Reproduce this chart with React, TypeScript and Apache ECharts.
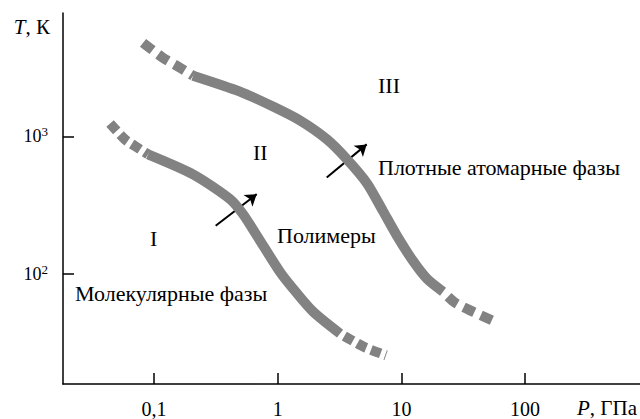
import React, { useEffect, useRef } from "react";
import * as echarts from "echarts";

// Pressure (GPa) ticks and temperature (K) ticks
const pressureTicks = [0.1, 1, 10, 100];
const tempTicks = [100, 1000];

// Lower boundary (molecular -> polymer): [P, T]
const lowerStartDashed = [
  [0.0441, 1242], [0.0583, 951], [0.0729, 832], [0.0894, 741],
];
const lowerSolid = [
  [0.0894, 741], [0.2066, 530], [0.4116, 350], [0.524, 272], [0.68, 189],
  [1.044, 103], [1.33, 78], [1.93, 53], [3.19, 36.7],
];
const lowerEndDashed = [
  [3.19, 36.7], [3.99, 32.7], [5.08, 29.1], [7.51, 25.5],
];

// Upper boundary (polymer -> dense atomic): [P, T]
const upperStartDashed = [
  [0.0815, 4800], [0.1182, 3737], [0.1622, 3162], [0.2066, 2767],
];
const upperSolid = [
  [0.2066, 2767], [0.4956, 2119], [0.916, 1650], [1.515, 1306], [2.503, 951],
  [3.633, 681], [5.27, 456], [7.1, 286], [9.21, 189], [12.41, 124],
  [16.1, 92], [21.7, 74.1],
];
const upperEndDashed = [
  [21.7, 74.1], [27.1, 61.7], [37.9, 53], [59.3, 44.2],
];

// Arrows [[P1, T1], [P2, T2]]
const arrows = [
  [[0.315, 224], [0.676, 380]],
  [[2.49, 502], [5.24, 875]],
];

const FONT = "'Liberation Serif', 'Times New Roman', serif";
const GRAY = "#828282";
const TXT = 22;

export default function App() {
  const ref = useRef<HTMLDivElement>(null);
  useEffect(() => {
    const chart = echarts.init(ref.current!, null, { renderer: "svg" });
    const lineSeries = (data: number[][], dashed: boolean, dash: number[], offset = 0) => ({
      type: "line",
      data,
      symbol: "none",
      smooth: 0.25,
      silent: true,
      lineStyle: {
        color: GRAY,
        width: 10,
        type: dashed ? dash : "solid",
        dashOffset: offset,
        cap: "butt",
        join: "round",
      },
    });
    const label = (text: string, x: number, y: number) => ({
      type: "text",
      x,
      y,
      style: { text, font: `${TXT}px ${FONT}`, fill: "#000", verticalAlign: "middle" },
    });
    const unitText = (sym: string, rest: string, x: number, y: number) => ({
      type: "text",
      x,
      y,
      style: {
        text: `{i|${sym}}{n|${rest}}`,
        rich: {
          i: { fontStyle: "italic", fontFamily: FONT, fontSize: 21, lineHeight: 22, fill: "#000" },
          n: { fontFamily: FONT, fontSize: 21, lineHeight: 22, fill: "#000" },
        },
        fill: "#000",
        align: "right",
        verticalAlign: "middle",
      },
    });
    chart.setOption({
      animation: false,
      tooltip: { show: false },
      grid: { left: 63, top: 13, right: 0, bottom: 33.3, containLabel: false },
      xAxis: {
        type: "log",
        logBase: 10,
        min: 0.01837,
        max: 848.8,
        axisLine: { lineStyle: { color: "#000", width: 1.5 } },
        axisTick: { inside: true, length: 11, lineStyle: { color: "#000", width: 1.5 }, customValues: pressureTicks },
        axisLabel: {
          customValues: pressureTicks,
          margin: 15,
          color: "#000",
          fontFamily: FONT,
          fontSize: 20,
          formatter: (v: number) => String(v).replace(".", ","),
        },
        splitLine: { show: false },
      },
      yAxis: {
        type: "log",
        logBase: 10,
        min: 15.77,
        max: 7915,
        axisLine: { lineStyle: { color: "#000", width: 1.5 } },
        axisTick: { inside: true, length: 11, lineStyle: { color: "#000", width: 1.5 }, customValues: tempTicks },
        axisLabel: {
          customValues: tempTicks,
          margin: 15,
          color: "#000",
          formatter: (v: number) => `{b|10}{s|${Math.round(Math.log10(v))}}`,
          rich: {
            b: { fontFamily: FONT, fontSize: 18, color: "#000", lineHeight: 22 },
            s: { fontFamily: FONT, fontSize: 13, color: "#000", verticalAlign: "top", lineHeight: 14 },
          },
        },
        splitLine: { show: false },
      },
      series: [
        lineSeries(lowerStartDashed, true, [10, 5]),
        lineSeries(lowerSolid, false, []),
        lineSeries(lowerEndDashed, true, [10, 5], 10),
        lineSeries(upperStartDashed, true, [12, 7]),
        lineSeries(upperSolid, false, []),
        lineSeries(upperEndDashed, true, [12, 7], 12),
        {
          type: "lines",
          coordinateSystem: "cartesian2d",
          silent: true,
          symbol: ["none", "arrow"],
          symbolSize: [0, 11],
          lineStyle: { color: "#000", width: 2, opacity: 1, curveness: 0 },
          data: arrows.map((c) => ({ coords: c })),
        },
      ],
      graphic: [
        unitText("T", ", К", 50, 27),
        unitText("P", ", ГПа", 637, 408),
        label("III", 378, 85),
        label("II", 253, 152),
        label("I", 150, 238),
        label("Полимеры", 277, 235),
        label("Плотные атомарные фазы", 378, 167),
        label("Молекулярные фазы", 75, 293),
      ],
    });
    return () => chart.dispose();
  }, []);
  return <div ref={ref} style={{ width: 640, height: 419, position: "absolute", left: 0, top: 0 }} />;
}
